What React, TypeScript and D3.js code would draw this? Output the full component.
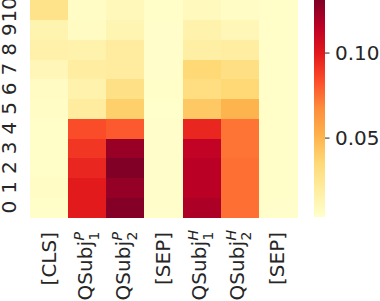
import React from "react";
import * as d3 from "d3";

// Column tokens (x axis)
const columns = ["[CLS]", "QSubj1P", "QSubj2P", "[SEP]", "QSubj1H", "QSubj2H", "[SEP]2"];
// Row labels (y axis), bottom to top
const rows = ["0", "1", "2", "3", "4", "5", "6", "7", "8", "9", "10"];

// Values per column, row 0 .. row 10
const colCLS = [0.0049, 0.0062, 0.0049, 0.0049, 0.0049, 0.0062, 0.0074, 0.0113, 0.0164, 0.0138, 0.0278];
const colQSubj1P = [0.0993, 0.0993, 0.0955, 0.0904, 0.084, 0.0202, 0.0151, 0.0189, 0.0151, 0.0074, 0.0062];
const colQSubj2P = [0.1299, 0.1261, 0.1312, 0.1248, 0.0802, 0.0393, 0.0291, 0.0202, 0.0202, 0.0125, 0.01];
const colSEP1 = [0.0042, 0.0042, 0.0042, 0.0042, 0.0042, 0.0036, 0.0049, 0.0042, 0.0042, 0.0042, 0.0049];
const colQSubj1H = [0.1197, 0.1159, 0.1159, 0.1133, 0.0955, 0.0419, 0.0317, 0.0355, 0.0176, 0.0151, 0.0087];
const colQSubj2H = [0.0751, 0.0751, 0.0751, 0.0738, 0.0738, 0.0508, 0.0355, 0.0304, 0.0189, 0.0113, 0.0062];
const colSEP2 = [0.0045, 0.0049, 0.0049, 0.0049, 0.0049, 0.0049, 0.0049, 0.0049, 0.0049, 0.0049, 0.0049];

const columnValues = [colCLS, colQSubj1P, colQSubj2P, colSEP1, colQSubj1H, colQSubj2H, colSEP2];

// Label descriptors: base text, subscript, superscript
const labelBase = ["[CLS]", "QSubj", "QSubj", "[SEP]", "QSubj", "QSubj", "[SEP]"];
const labelSub = ["", "1", "2", "", "1", "2", ""];
const labelSup = ["", "P", "P", "", "H", "H", ""];

const colorbarTicks = [0.05, 0.1];

const YLORRD = ["#ffffcc", "#ffeda0", "#fed976", "#feb24c", "#fd8d3c", "#fc4e2a", "#e31a1c", "#bd0026", "#800026"];

const FONT = "DejaVu Sans";
const TEXT = "#262626";

export default function App() {
  const W = 380, H = 301;
  const left = 30, right = 297, top = 0, bottom = 217;
  const cbX0 = 314, cbX1 = 325;

  const all = columnValues.flat();
  const vmin = d3.min(all) as number;
  const vmax = d3.max(all) as number;

  const color = d3
    .scaleLinear<string>()
    .domain(YLORRD.map((_, i) => vmin + (i / (YLORRD.length - 1)) * (vmax - vmin)))
    .range(YLORRD)
    .interpolate(d3.interpolateRgb)
    .clamp(true);

  const x = d3.scaleBand<string>().domain(columns).range([left, right]).padding(0);
  const y = d3.scaleBand<string>().domain(rows.slice().reverse()).range([top, bottom]).padding(0);
  const cbY = d3.scaleLinear().domain([vmin, vmax]).range([bottom, top]);

  const cells: React.ReactNode[] = [];
  columns.forEach((c, ci) => {
    rows.forEach((r, ri) => {
      cells.push(
        <rect
          key={`${ci}-${ri}`}
          x={x(c)}
          y={y(r)}
          width={x.bandwidth() + 0.5}
          height={y.bandwidth() + 0.5}
          fill={color(columnValues[ci][ri])}
          shapeRendering="crispEdges"
        />
      );
    });
  });

  return (
    <svg width={W} height={H} style={{ display: "block", position: "absolute", left: 0, top: 0 }}>
      <defs>
        <linearGradient id="cb" x1="0" y1="1" x2="0" y2="0">
          {YLORRD.map((c, i) => (
            <stop key={i} offset={i / (YLORRD.length - 1)} stopColor={c} />
          ))}
        </linearGradient>
      </defs>
      <rect x={0} y={0} width={W} height={H} fill="#fff" />
      {cells}

      {/* y tick labels */}
      {rows.map((r) => {
        const cy = (y(r) as number) + y.bandwidth() / 2;
        return (
          <text
            key={r}
            transform={`translate(15.5,${cy}) rotate(-90)`}
            textAnchor="middle"
            fontFamily={FONT}
            fontSize={20}
            fill={TEXT}
          >
            {r}
          </text>
        );
      })}

      {/* x tick labels */}
      {columns.map((c, ci) => {
        const cx = (x(c) as number) + x.bandwidth() / 2;
        const hasMath = labelSub[ci] !== "";
        if (!hasMath) {
          return (
            <text
              key={c}
              transform={`translate(${cx + 6.5},232) rotate(-90)`}
              textAnchor="end"
              fontFamily={FONT}
              fontSize={20}
              fill={TEXT}
            >
              {labelBase[ci]}
            </text>
          );
        }
        return (
          <g key={c} transform={`translate(${cx + 4.5},230) rotate(-90)`} fontFamily={FONT} fill={TEXT}>
            <text x={-11} y={0} textAnchor="end" fontSize={20}>
              {labelBase[ci]}
            </text>
            <text x={-10.5} y={7} textAnchor="start" fontSize={14}>
              {labelSub[ci]}
            </text>
            <text x={-10.5} y={-8} textAnchor="start" fontSize={14} fontStyle="italic">
              {labelSup[ci]}
            </text>
          </g>
        );
      })}

      {/* colorbar */}
      <rect x={cbX0} y={top} width={cbX1 - cbX0} height={bottom - top} fill="url(#cb)" />
      {colorbarTicks.map((t) => (
        <g key={t}>
          <line x1={cbX1} x2={cbX1 + 4.5} y1={cbY(t)} y2={cbY(t)} stroke={TEXT} strokeWidth={1} />
          <text
            x={335}
            y={cbY(t)}
            dy="0.36em"
            fontFamily={FONT}
            fontSize={20}
            fill={TEXT}
          >
            {d3.format(".2f")(t)}
          </text>
        </g>
      ))}
    </svg>
  );
}
